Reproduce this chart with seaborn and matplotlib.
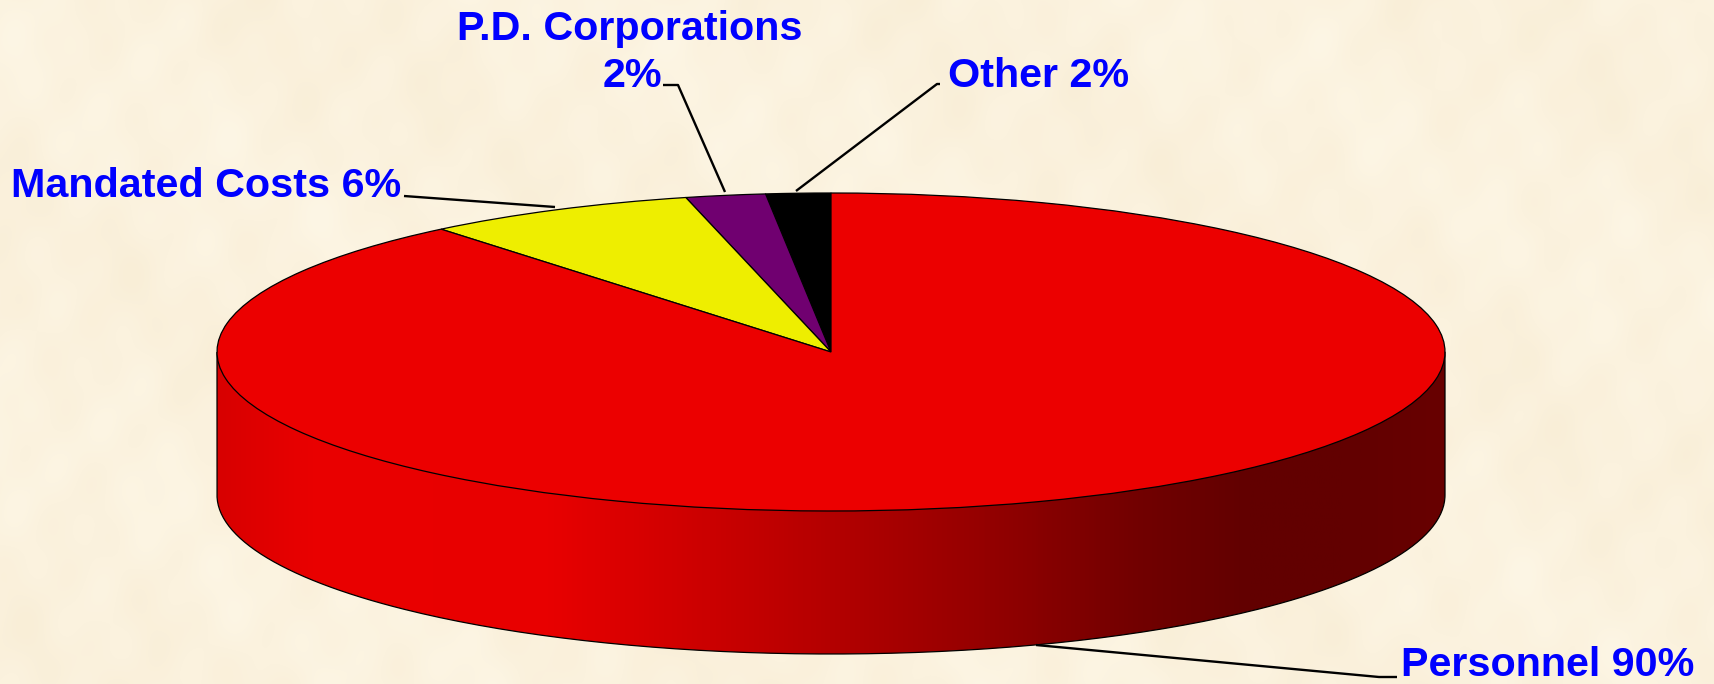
import numpy as np
import seaborn as sns
import matplotlib
matplotlib.use("Agg")
import matplotlib.pyplot as plt
from matplotlib.path import Path
from matplotlib.patches import PathPatch

# Data: drawn slice shares, printed labels as shown
categories = ["Other", "P.D. Corporations", "Mandated Costs", "Personnel"]
label_pct = [2, 2, 6, 90]
slice_shares = [1.7, 2.1, 7.15, 89.05]
slice_colors = ["#000000", "#700070", "#EEEE00", "#EC0000"]

W, H = 1714, 684
CX, CY, RX, RY, DEPTH = 831, 352, 614, 159, 143

sns.set_theme(style="white")
plt.rcParams["font.family"] = ["Liberation Sans", "DejaVu Sans"]

fig = plt.figure(figsize=(W / 100, H / 100), dpi=100)
ax = fig.add_axes([0, 0, 1, 1])
xlim = (-CX / RX, (W - CX) / RX)
ylim = ((CY - H) / RY, CY / RY)

# Parchment background texture (deterministic mottling)
yy, xx = np.mgrid[0:H, 0:W]
tex = (np.sin(xx / 23.0 + 1.3 * np.sin(yy / 71.0)) * np.sin(yy / 37.0 + xx / 190.0)
       + 0.7 * np.sin(xx / 11.0 + yy / 53.0) * np.sin(yy / 17.0 - xx / 67.0)
       + 0.8 * np.sin(xx / 97.0 - yy / 61.0 + 2.0))
tex = tex / np.abs(tex).max()
bg = np.dstack([(251 + 2 * tex) / 255, (242 + 4 * tex) / 255, (222 + 7 * tex) / 255]).clip(0, 1)
ax.imshow(bg, extent=(xlim[0], xlim[1], ylim[0], ylim[1]), origin="upper", aspect="auto", zorder=0)

# Cylinder side with horizontal shading
d = DEPTH / RY
t = np.linspace(np.pi, 2 * np.pi, 240)
verts = [(-1, 0), (-1, -d)] + list(zip(np.cos(t), np.sin(t) - d)) + [(1, 0), (-1, 0)]
side = PathPatch(Path(verts), facecolor="none", edgecolor="black", lw=0.9, zorder=2)
ax.add_patch(side)
stops = [(0.00, "#D80000"), (0.08, "#EA0000"), (0.27, "#E80000"), (0.45, "#C00000"),
         (0.62, "#960000"), (0.75, "#720000"), (0.84, "#620000"), (0.92, "#620000"), (1.00, "#680000")]
cmap = matplotlib.colors.LinearSegmentedColormap.from_list("side", stops)
grad = np.linspace(0, 1, 512)[None, :]
img = ax.imshow(grad, cmap=cmap, extent=(-1, 1, -d - 1, 0), aspect="auto", zorder=1)
img.set_clip_path(side)

# Top face of the pie
palette = sns.color_palette(slice_colors)
ax.pie(slice_shares, colors=palette, startangle=90, counterclock=True, radius=1, center=(0, 0),
       wedgeprops=dict(edgecolor="black", linewidth=0.9, zorder=3))
ax.set_xlim(*xlim)
ax.set_ylim(*ylim)
ax.set_aspect("auto")
ax.axis("off")

# Overlay in pixel coordinates for leader lines and labels
ov = fig.add_axes([0, 0, 1, 1], facecolor="none")
ov.set_xlim(0, W)
ov.set_ylim(H, 0)
ov.axis("off")

leaders = [
    ([796, 937, 940], [191, 84, 84]),
    ([725, 678, 663], [192, 85, 85]),
    ([555, 404], [207, 196]),
    ([1036, 1379, 1397], [645, 677, 677]),
]
for lx, ly in leaders:
    ov.plot(lx, ly, color="black", lw=1.7, solid_capstyle="butt", zorder=2)

fs = 29.7
tstyle = dict(color="#0000FF", fontweight="bold", fontsize=fs, zorder=3)
ov.text(948, 76, f"{categories[0]} {label_pct[0]}%", ha="left", va="center", **tstyle)
ov.text(630, 29, categories[1], ha="center", va="center", **tstyle)
ov.text(632, 76, f"{label_pct[1]}%", ha="center", va="center", **tstyle)
ov.text(11, 186, f"{categories[2]} {label_pct[2]}%", ha="left", va="center", **tstyle)
ov.text(1401, 665, f"{categories[3]} {label_pct[3]}%", ha="left", va="center", **tstyle)

fig.savefig("out.png", dpi=100)
